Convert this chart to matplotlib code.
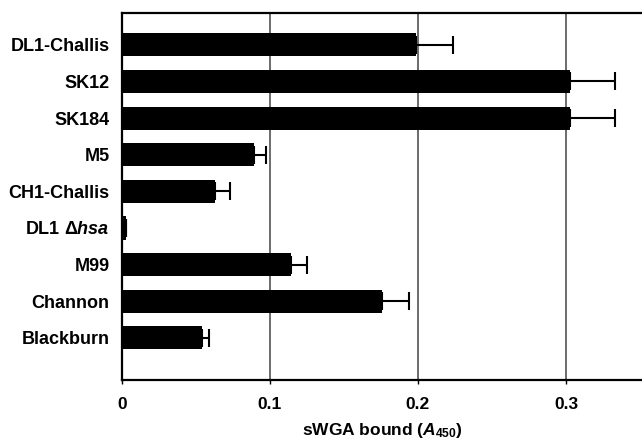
import matplotlib
matplotlib.use("Agg")
import matplotlib.pyplot as plt
import numpy as np

plt.rcParams['font.family'] = ['Liberation Sans', 'DejaVu Sans']
plt.rcParams['mathtext.fontset'] = 'custom'
plt.rcParams['mathtext.rm'] = 'Liberation Sans:bold'
plt.rcParams['mathtext.it'] = 'Liberation Sans:bold:italic'
plt.rcParams['mathtext.bf'] = 'Liberation Sans:bold'

strains = ['DL1-Challis', 'SK12', 'SK184', 'M5', 'CH1-Challis',
           r'DL1 $\Delta\mathit{hsa}$', 'M99', 'Channon', 'Blackburn']
values = [0.199, 0.303, 0.303, 0.089, 0.063, 0.003, 0.114, 0.176, 0.054]
errors = [0.025, 0.030, 0.030, 0.008, 0.010, 0.0, 0.011, 0.018, 0.005]
xticks = [0, 0.1, 0.2, 0.3]
xtick_labels = ['0', '0.1', '0.2', '0.3']

fig = plt.figure(figsize=(6.42, 4.40), dpi=100)
ax = fig.add_axes([122/642, 1 - 380/440, 1 - 122/642, (380 - 13)/440])

y = np.arange(len(strains))
ax.barh(y, values, height=0.63, color='black', zorder=3)
ax.errorbar(values, y, xerr=[np.zeros(len(errors)), errors], fmt='none',
            ecolor='black', elinewidth=1.5, capsize=6.5, capthick=1.5, zorder=4)

ax.set_xlim(0, 0.3514)
ax.set_ylim(9.15, -0.87)
ax.set_yticks(y)
ax.set_yticklabels(strains, fontsize=13, fontweight='bold')
ax.set_xticks(xticks)
ax.set_xticklabels(xtick_labels, fontsize=12.5, fontweight='bold')
ax.tick_params(axis='y', length=0, pad=9)
ax.tick_params(axis='x', length=3, width=1, direction='out', pad=9)

for gx in xticks[1:]:
    ax.axvline(gx, color='#444444', linewidth=1.1, zorder=1)

for s in ['left', 'bottom', 'top']:
    ax.spines[s].set_linewidth(1.6)
    ax.spines[s].set_color('black')
ax.spines['right'].set_visible(False)

ax.set_xlabel(r'sWGA bound ($A_{\mathrm{450}}$)', fontsize=12.5, fontweight='bold', labelpad=7)

fig.savefig('out.png', dpi=100)
